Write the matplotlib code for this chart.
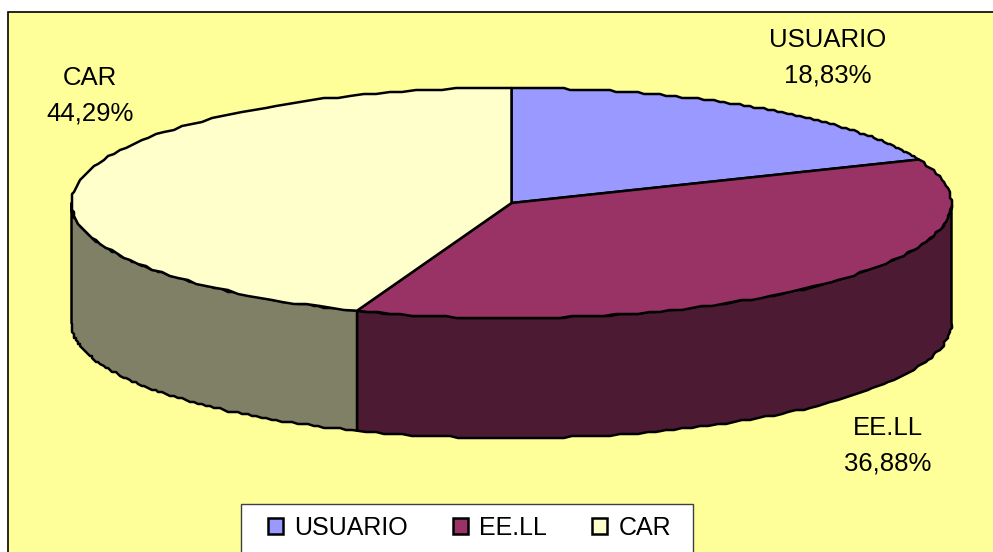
import numpy as np
from matplotlib import pyplot as plt
from matplotlib.patches import Rectangle, Patch

labels = ['USUARIO', 'EE.LL', 'CAR']
values = [18.83, 36.88, 44.29]
value_text = ['18,83%', '36,88%', '44,29%']
colors = ['#9999FF', '#993366', '#FFFFCC']
side_colors = ['#4D4D80', '#4D1A33', '#808066']

# pie geometry in pixels
cx, cy = 511.5, 203
rx, ry = 440, 115
depth = 120
text_pos = [(828, 58), (888, 446), (90, 96)]

W, H = 993, 552
fig = plt.figure(figsize=(W / 100, H / 100), dpi=100, facecolor='white')
ax = fig.add_axes([0, 0, 1, 1])
ax.set_xlim(0, W)
ax.set_ylim(H, 0)
ax.axis('off')
plt.rcParams['font.family'] = ['Liberation Sans', 'DejaVu Sans']

ax.add_patch(Rectangle((8, 12), W, H, facecolor='#FFFF99', edgecolor='black', linewidth=1.2))


def arc(t0, t1):
    # the original outline is stepped, so snap the arc to a coarse pixel grid
    t = np.radians(np.linspace(t0, t1, 90))
    x = cx + rx * np.sin(t)
    y = cy - ry * np.cos(t)
    x[1:-1] = np.round(x[1:-1] / 2) * 2
    y[1:-1] = np.round(y[1:-1] / 2) * 2
    return x, y


edges = np.cumsum([0] + values) * 3.6

# side walls, only the front half of the ellipse shows
for i in range(len(values)):
    t0, t1 = max(edges[i], 90), min(edges[i + 1], 270)
    if t1 <= t0:
        continue
    x, y = arc(t0, t1)
    ax.fill(np.r_[x, x[::-1]], np.r_[y, y[::-1] + depth], facecolor=side_colors[i],
            edgecolor='black', linewidth=1.8, joinstyle='round')

# top slices
for i in range(len(values)):
    x, y = arc(edges[i], edges[i + 1])
    ax.fill(np.r_[cx, x], np.r_[cy, y], facecolor=colors[i],
            edgecolor='black', linewidth=1.8, joinstyle='round')

for i in range(len(values)):
    ax.text(text_pos[i][0], text_pos[i][1], labels[i] + '\n' + value_text[i], ha='center', va='center',
            fontsize=18.5, linespacing=1.58, color='black')

# legend box runs off the bottom of the picture
ax.add_patch(Rectangle((241, 504), 452, 80, facecolor='white', edgecolor='#404040', linewidth=1.0, zorder=4))
handles = [Patch(facecolor=c, edgecolor='black', linewidth=1.8) for c in colors]
leg = ax.legend(handles, labels, ncol=3, loc='upper left', bbox_to_anchor=(268, 516),
                bbox_transform=ax.transData, borderaxespad=0, borderpad=0, frameon=False,
                fontsize=18, handlelength=0.6, handleheight=0.6,
                handletextpad=0.45, columnspacing=1.8)
leg.set_zorder(5)

fig.savefig('out.png', dpi=100)
